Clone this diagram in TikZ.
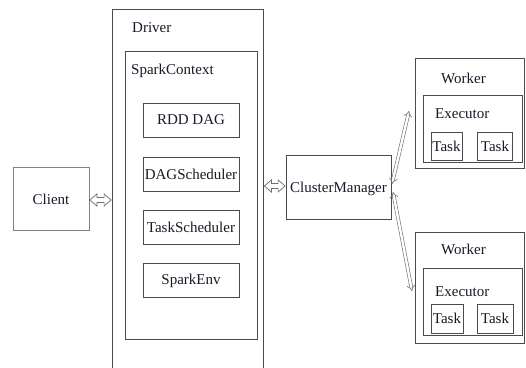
\documentclass[tikz,border=0pt]{standalone}
\usepackage{fontspec}
\setmainfont{Liberation Serif}
\usetikzlibrary{arrows.meta,calc}
\definecolor{edge}{RGB}{75,75,75}
\definecolor{ink}{RGB}{25,25,40}
\newcommand{\fatarrow}[2]{%
  \draw[fatarrow] (#1) -- ++(7,-6) -- ++(0,3.5) -- ($(#2)+(-7,-2.5)$) -- ++(0,-3.5) -- (#2)
    -- ++(-7,6) -- ++(0,-3.5) -- ($(#1)+(7,2.5)$) -- ++(0,3.5) -- cycle;}
\begin{document}
\begin{tikzpicture}[x=1pt,y=-1pt,
  box/.style={draw=edge,line width=0.8pt,rectangle,inner sep=0pt,text=ink,font=\fontsize{15}{17}\selectfont},
  lbl/.style={anchor=west,inner sep=0pt,text=ink,font=\fontsize{15}{17}\selectfont},
  fatarrow/.style={draw=edge!80,fill=white,line width=0.7pt,line join=miter},
  thinarrow/.style={draw=edge!80,line width=0.6pt,double=white,double distance=2.4pt,{Implies}-{Implies}}]
\useasboundingbox (0,0) rectangle (526,367);
\fill[white] (0,0) rectangle (526,367);
% Client
\node[box,draw=edge!70,minimum width=76pt,minimum height=63pt] (client) at (51,199) {Client};
% Driver
\node[box,minimum width=151pt,minimum height=363pt] (driver) at (187.5,190.5) {};
\node[lbl] (driverlbl) at (132,28) {Driver};
% SparkContext
\node[box,minimum width=132pt,minimum height=288pt] (sc) at (191,195) {};
\node[lbl] (sclbl) at (131,71) {SparkContext};
\node[box,minimum width=96pt,minimum height=34pt] (rdd) at (191,120) {RDD DAG};
\node[box,minimum width=96pt,minimum height=34pt] (dag) at (191,174) {DAGScheduler};
\node[box,minimum width=96pt,minimum height=34pt] (ts) at (191,227) {TaskScheduler};
\node[box,minimum width=96pt,minimum height=34pt] (env) at (191,280.5) {SparkEnv};
% ClusterManager
\node[box,minimum width=105pt,minimum height=64pt] (cm) at (338.5,187) {};
\node[lbl,anchor=center] (cmlbl) at (338.5,189) {ClusterManager};
% Worker 1
\node[box,minimum width=109pt,minimum height=110pt] (w1) at (469.5,113) {};
\node[lbl] (w1lbl) at (441,78) {Worker};
\node[box,minimum width=99pt,minimum height=67pt] (e1) at (472.5,128.5) {};
\node[lbl] (e1lbl) at (435,114) {Executor};
\node[box,minimum width=31pt,minimum height=28pt] (t11) at (446.5,146) {Task};
\node[box,minimum width=35pt,minimum height=28pt] (t12) at (495,146) {Task};
% Worker 2
\node[box,minimum width=109pt,minimum height=111pt] (w2) at (469.5,287.5) {};
\node[lbl] (w2lbl) at (441,249) {Worker};
\node[box,minimum width=99pt,minimum height=67pt] (e2) at (472.5,301.5) {};
\node[lbl] (e2lbl) at (435,292) {Executor};
\node[box,minimum width=32pt,minimum height=29pt] (t21) at (447,318.5) {Task};
\node[box,minimum width=36pt,minimum height=29pt] (t22) at (495,318.5) {Task};
% connectors
\coordinate (cm1) at (392,184);
\coordinate (w1a) at (409,111);
\coordinate (cm2) at (393,192);
\coordinate (w2a) at (412,291);
\coordinate (ca) at ($(client.east)+(0.5,1)$);
\coordinate (da) at ($(client.east -| driver.west)+(-0.5,1)$);
\coordinate (db) at ($(cm.west -| driver.east)+(1,-1)$);
\coordinate (cb) at ($(cm.west)+(-0.5,-1)$);
\fatarrow{ca}{da}
\fatarrow{db}{cb}
\draw[thinarrow] (cm1) -- (w1a);
\draw[thinarrow] (cm2) -- (w2a);
\end{tikzpicture}
\end{document}
